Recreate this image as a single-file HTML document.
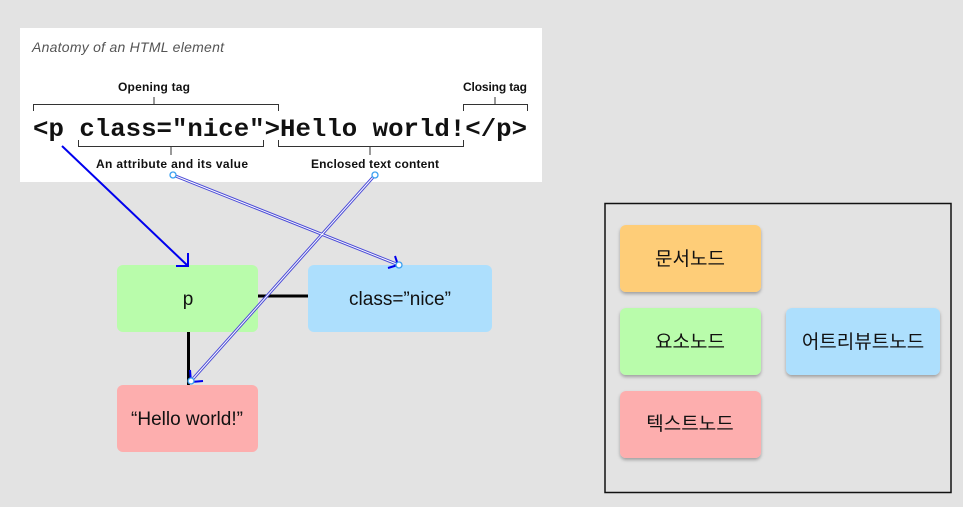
<!DOCTYPE html>
<html><head><style>
body{margin:0;background:#e3e3e3;width:963px;height:507px;overflow:hidden}
</style></head><body>
<svg width="963" height="507" xmlns="http://www.w3.org/2000/svg" style="position:absolute;left:0;top:0">
<defs>
<filter id="sh" x="-10%" y="-10%" width="120%" height="130%"><feDropShadow dx="0" dy="2" stdDeviation="1.5" flood-color="#000" flood-opacity="0.3"/></filter>
</defs>
<rect x="0" y="0" width="963" height="507" fill="#e3e3e3"/>
<rect x="20" y="28" width="522" height="154" fill="#fff"/>
<text x="32" y="52" font-family="Liberation Sans, sans-serif" font-style="italic" font-size="14" fill="#555" textLength="192">Anatomy of an HTML element</text>
<g font-family="Liberation Sans, sans-serif" font-weight="bold" font-size="12" fill="#111" text-anchor="middle">
<text x="154" y="91" textLength="72">Opening tag</text>
<text x="495" y="91" textLength="64">Closing tag</text>
<text x="172" y="168" textLength="152">An attribute and its value</text>
<text x="375" y="168" textLength="128">Enclosed text content</text>
</g>
<g stroke="#333" stroke-width="1" fill="none">
<path d="M33.5 111V104.5H278.5V111M154 104.5V97"/>
<path d="M463.5 111V104.5H527.5V111M495 104.5V97"/>
<path d="M78.5 140V146.5H263.5V140M171 146.5V155"/>
<path d="M278.5 140V146.5H463.5V140M370 146.5V155"/>
</g>
<text x="33" y="136" font-family="Liberation Mono, monospace" font-weight="bold" font-size="25" fill="#111" textLength="494" lengthAdjust="spacingAndGlyphs">&lt;p class="nice"&gt;Hello world!&lt;/p&gt;</text>
<!-- nodes -->
<rect x="117" y="265" width="141" height="67" rx="6" fill="#b9fcab"/>
<rect x="308" y="265" width="184" height="67" rx="6" fill="#addffd"/>
<rect x="117" y="385" width="141" height="67" rx="6" fill="#fdaeae"/>
<line x1="258" y1="296" x2="308" y2="296" stroke="#000" stroke-width="3"/>
<line x1="188.5" y1="332" x2="188.5" y2="385" stroke="#000" stroke-width="3"/>
<g font-family="Liberation Sans, sans-serif" font-size="19" fill="#111" text-anchor="middle">
<text x="188" y="305">p</text>
<text x="400" y="305">class=”nice”</text>
<text x="187" y="425">“Hello world!”</text>
</g>
<!-- arrows -->
<line x1="62" y1="146" x2="188" y2="266" stroke="#0000ee" stroke-width="2"/>
<path d="M176 266H188V253" stroke="#0000ee" stroke-width="2" fill="none"/>
<g stroke="#4a4ad8" stroke-width="3" fill="none"><line x1="173" y1="175" x2="399" y2="265"/><line x1="375" y1="175" x2="191" y2="381"/></g>
<g stroke="#fff" stroke-width="1" fill="none"><line x1="173" y1="175" x2="399" y2="265"/><line x1="375" y1="175" x2="191" y2="381"/></g>
<path d="M388 268L398 265L395 256" stroke="#0000ee" stroke-width="2" fill="none"/>
<path d="M190 370L191 382L203 381" stroke="#0000ee" stroke-width="2" fill="none"/>
<g fill="#fff" stroke="#3aa0f0" stroke-width="1.3">
<circle cx="173" cy="175" r="3"/><circle cx="375" cy="175" r="3"/><circle cx="399" cy="265" r="3"/><circle cx="191" cy="381" r="3"/>
</g>
<!-- legend -->
<rect x="605" y="203.5" width="346" height="289" fill="none" stroke="#111" stroke-width="1.5"/>
<g filter="url(#sh)">
<rect x="620" y="225" width="141" height="67" rx="6" fill="#fecd78"/>
<rect x="620" y="308" width="141" height="67" rx="6" fill="#b9fcab"/>
<rect x="620" y="391" width="141" height="67" rx="6" fill="#fdaeae"/>
<rect x="786" y="308" width="154" height="67" rx="6" fill="#addffd"/>
</g>
<g font-family="Liberation Sans, 'Noto Sans CJK KR', sans-serif" font-size="19" fill="#111" text-anchor="middle">
<text x="690" y="265">문서노드</text>
<text x="690" y="348">요소노드</text>
<text x="690" y="430">텍스트노드</text>
<text x="863" y="348">어트리뷰트노드</text>
</g>
</svg>
</body></html>
